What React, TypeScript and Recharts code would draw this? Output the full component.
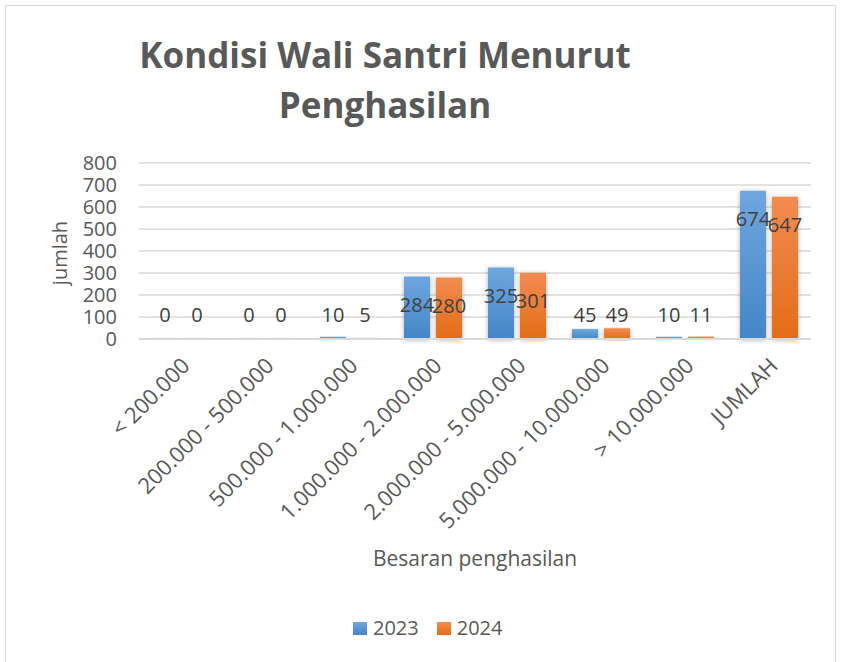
import { BarChart, Bar, XAxis, YAxis, CartesianGrid, LabelList } from 'recharts';

const categories = [
  '< 200.000',
  '200.000 - 500.000',
  '500.000 - 1.000.000',
  '1.000.000 - 2.000.000',
  '2.000.000 - 5.000.000',
  '5.000.000 - 10.000.000',
  '> 10.000.000',
  'JUMLAH',
];
const values2023 = [0, 0, 10, 284, 325, 45, 10, 674];
const values2024 = [0, 0, 5, 280, 301, 49, 11, 647];
const yTicks = [0, 100, 200, 300, 400, 500, 600, 700, 800];

const FONT = '"Open Sans", sans-serif';
const TEXT = '#595959';
const GRID = '#d9d9d9';

// value label: inside the bar near its top, or floating above the axis for short bars
const BarValue = (props: any) => {
  const { x, y, width, height, value } = props;
  const base = y + height;
  const cy = Math.min(y + 28, base - 25);
  return (
    <text x={x + width / 2} y={cy} textAnchor="middle" dominantBaseline="central"
      fontFamily={FONT} fontSize={20} fill="#404040">
      {value}
    </text>
  );
};

// slanted category label, its top-right corner hangs just under the category centre
const SlantTick = (props: any) => {
  const { x, y, payload } = props;
  return (
    <g transform={`translate(${x - 1},${y})`}>
      <text transform="rotate(-45)" textAnchor="end" dy="0.72em"
        fontFamily={FONT} fontSize={22} fill={TEXT}>
        {payload.value}
      </text>
    </g>
  );
};

const App = () => {
  const data = categories.map((c, i) => ({ name: c, y2023: values2023[i], y2024: values2024[i] }));

  return (
    <div style={{ position: 'absolute', left: 0, top: 0, width: 841, height: 662, background: '#fff', fontFamily: FONT }}>
      <div style={{ position: 'absolute', left: 5, top: 5, width: 829, height: 680, border: '1px solid #d9d9d9' }} />
      <div style={{ position: 'absolute', left: 85, width: 600, top: 30, textAlign: 'center', fontSize: 35, fontWeight: 700, color: TEXT, lineHeight: '50px', whiteSpace: 'nowrap' }}>
        Kondisi Wali Santri Menurut<br />Penghasilan
      </div>
      <BarChart width={841} height={662} data={data}
        margin={{ top: 163, right: 30, left: 79, bottom: 193 }}
        barCategoryGap={13} barGap={6}>
        <defs>
          <linearGradient id="g2023" x1="0" y1="0" x2="0" y2="1">
            <stop offset="0%" stopColor="#6fa7dd" />
            <stop offset="100%" stopColor="#4585c8" />
          </linearGradient>
          <linearGradient id="g2024" x1="0" y1="0" x2="0" y2="1">
            <stop offset="0%" stopColor="#f18c50" />
            <stop offset="100%" stopColor="#e46c18" />
          </linearGradient>
          <filter id="shadow" x="-30%" y="-10%" width="160%" height="120%">
            <feDropShadow dx="0" dy="1" stdDeviation="2.5" floodColor="#000" floodOpacity="0.3" />
          </filter>
        </defs>
        <CartesianGrid vertical={false} stroke={GRID} strokeWidth={1.5} />
        <XAxis dataKey="name" interval={0} height={130} tick={<SlantTick />}
          tickLine={false} axisLine={{ stroke: GRID, strokeWidth: 2 }} tickSize={0} tickMargin={17} />
        <YAxis domain={[0, 800]} ticks={yTicks} width={60} interval={0}
          tick={{ fontSize: 20, fill: TEXT, fontFamily: FONT }}
          tickLine={false} axisLine={false} tickSize={0} tickMargin={22} />
        <Bar dataKey="y2023" fill="url(#g2023)" filter="url(#shadow)" minPointSize={1} isAnimationActive={false}>
          <LabelList dataKey="y2023" content={BarValue} />
        </Bar>
        <Bar dataKey="y2024" fill="url(#g2024)" filter="url(#shadow)" minPointSize={1} isAnimationActive={false}>
          <LabelList dataKey="y2024" content={BarValue} />
        </Bar>
      </BarChart>
      <div style={{ position: 'absolute', left: 59, top: 253, transform: 'translate(-50%, -50%) rotate(-90deg)', fontSize: 20, color: TEXT, whiteSpace: 'nowrap' }}>
        jumlah
      </div>
      <div style={{ position: 'absolute', left: 475, top: 558, transform: 'translate(-50%, -50%)', fontSize: 21, color: TEXT, whiteSpace: 'nowrap' }}>
        Besaran penghasilan
      </div>
      <div style={{ position: 'absolute', left: 353, top: 614, display: 'flex', alignItems: 'center', fontSize: 20, color: TEXT, lineHeight: '28px' }}>
        <span style={{ width: 14, height: 13, background: 'linear-gradient(#6fa7dd, #4585c8)', marginRight: 6 }} />
        <span>2023</span>
        <span style={{ width: 14, height: 13, background: 'linear-gradient(#f18c50, #e46c18)', marginLeft: 18, marginRight: 6 }} />
        <span>2024</span>
      </div>
    </div>
  );
};

export default App;
